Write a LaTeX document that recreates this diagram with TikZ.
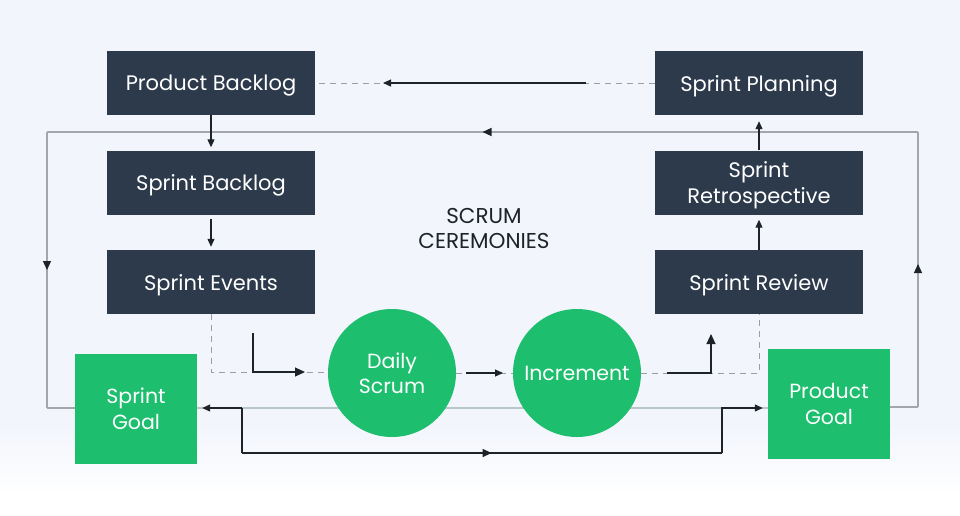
\documentclass[tikz,border=0pt]{standalone}
\usepackage{fontspec}
\setmainfont{Poppins}
\usetikzlibrary{arrows.meta,decorations.markings,calc}
\definecolor{navy}{HTML}{2D3A4B}
\definecolor{sgreen}{HTML}{1DBF6E}
\definecolor{bgblue}{HTML}{F2F5FC}
\definecolor{loopgray}{HTML}{A3A7AB}
\definecolor{dashgray}{HTML}{9A9FA4}
\definecolor{lightline}{HTML}{B9C6C6}
\definecolor{ink}{HTML}{1E2329}
\pgfdeclarelayer{bglayer}
\pgfdeclarelayer{linelayer}
\pgfsetlayers{bglayer,linelayer,main}
\newcommand{\lowertext}[1]{\raisebox{-3pt}[\height][\depth]{#1}}
\newcommand{\twolines}[2]{\lowertext{\begin{tabular}{@{}c@{}}#1\\#2\end{tabular}}}
\begin{document}
\begin{tikzpicture}[x=1pt,y=-1pt,
  darkbox/.style={fill=navy, text=white, minimum width=208pt, minimum height=64pt,
    inner sep=0pt, align=center, font=\fontsize{21}{26}\selectfont},
  goalbox/.style={fill=sgreen, text=white, minimum width=122pt, minimum height=110pt,
    inner sep=0pt, align=center, font=\fontsize{20.5}{26}\selectfont},
  ceremony/.style={circle, fill=sgreen, text=white, minimum size=128pt, inner sep=0pt,
    align=center, font=\fontsize{20.5}{25}\selectfont},
  flow/.style={draw=ink, line width=1.1pt},
  tipA/.style={-{Triangle[length=8pt,width=7pt]}},
  tipB/.style={-{Triangle[length=10pt,width=9pt]}},
  dashline/.style={draw=dashgray, line width=1pt, dash pattern=on 6pt off 5pt},
  loopline/.style={draw=loopgray, line width=1.2pt},
  midtip/.style={postaction=decorate, decoration={markings,
      mark=at position #1 with {\arrow[ink]{Triangle[length=9pt,width=8pt]}}}}
]
\useasboundingbox (0,0) rectangle (960,515);
\begin{pgfonlayer}{bglayer}
\fill[bgblue] (0,0) rectangle (960,425);
\shade[top color=bgblue, bottom color=white] (0,424) rectangle (960,495);
\fill[white] (0,494) rectangle (960,515);
\end{pgfonlayer}

% coordinates
\coordinate (cRB) at (918,407);
\coordinate (cRT) at (918,132);
\coordinate (cLT) at (47,132);
\coordinate (cLB) at (47,408);

% nodes
\node[darkbox] (pb) at (211,83) {\lowertext{Product Backlog}};
\node[darkbox] (sb) at (211,182.5) {\lowertext{Sprint Backlog}};
\node[darkbox] (se) at (211,282) {\lowertext{Sprint Events}};
\node[darkbox] (sp) at (759,83) {\lowertext{Sprint Planning}};
\node[darkbox] (sr) at (759,182.5) {\twolines{Sprint}{Retrospective}};
\node[darkbox] (sv) at (759,282) {\lowertext{Sprint Review}};
\node[goalbox] (sg) at (136,408.5) {Sprint\\Goal};
\node[goalbox] (pg) at (829,403.5) {Product\\Goal};
\node[ceremony] (ds) at (392,373) {Daily\\Scrum};
\node[ceremony] (inc) at (577,373) {Increment};
\node[align=center, text=ink, font=\fontsize{21.5}{25}\selectfont] (title) at (484,228) {SCRUM\\CEREMONIES};

\begin{pgfonlayer}{linelayer}
% loop line
\draw[loopline] (pg.east |- cRB) -- (cRB);
\draw[loopline, midtip=0.52] (cRB) -- (cRT);
\draw[loopline, midtip=0.5] (cRT) -- (cLT);
\draw[loopline, midtip=0.5] (cLT) -- (cLB);
\draw[loopline] (cLB) -- (sg.west |- cLB);

% top connector
\coordinate (tA) at (586,83);
\coordinate (tB) at (383,83);
\draw[dashline] (sp.west) -- (pb.east);
\draw[flow, tipA] (tA) -- (tB);

% vertical arrows
\draw[flow, tipA, shorten >=3pt] (pb.south) -- (sb.north);
\draw[flow, tipA, shorten <=4pt, shorten >=3pt] (sb.south) -- (se.north);
\draw[flow, tipA, shorten >=5pt] (sv.north) -- (sr.south);
\draw[flow, tipA, shorten >=6pt] (sr.north) -- (sp.south);

% bottom light line between goals
\draw[draw=lightline, line width=1.4pt] (sg.east |- cLB) -- (pg.west |- cLB);

% events -> daily scrum
\coordinate (eC) at (211,372);
\draw[dashline] (se.south) -- (eC) -- (ds.west |- eC);
\coordinate (e1) at (253,333);
\coordinate (e2) at (253,372);
\coordinate (e3) at (305,372);
\draw[flow, tipB] (e1) -- (e2) -- (e3);

% daily -> increment
\draw[dashline] (ds.east) -- (inc.west);
\coordinate (d1) at (466,373);
\coordinate (d2) at (503,373);
\draw[flow, tipA] (d1) -- (d2);

% increment -> review
\coordinate (rC) at (759,373);
\draw[dashline] (inc.east) -- (rC) -- (sv.south);
\coordinate (r1) at (667,373);
\coordinate (r2) at (711,373);
\coordinate (r3) at (711,334);
\draw[flow, tipB] (r1) -- (r2) -- (r3);

% goals linkage
\coordinate (g1) at (242,408);
\coordinate (g2) at (242,453);
\coordinate (g3) at (722,453);
\coordinate (g4) at (722,408);
\draw[flow, tipA, shorten >=5pt] (g1) -- (sg.east |- g1);
\draw[flow, midtip=0.52] (g2) -- (g3);
\draw[flow] (g1) -- (g2);
\draw[flow, tipA, shorten >=5pt] (g3) -- (g4) -- (pg.west |- g4);
\end{pgfonlayer}
\end{tikzpicture}
\end{document}
